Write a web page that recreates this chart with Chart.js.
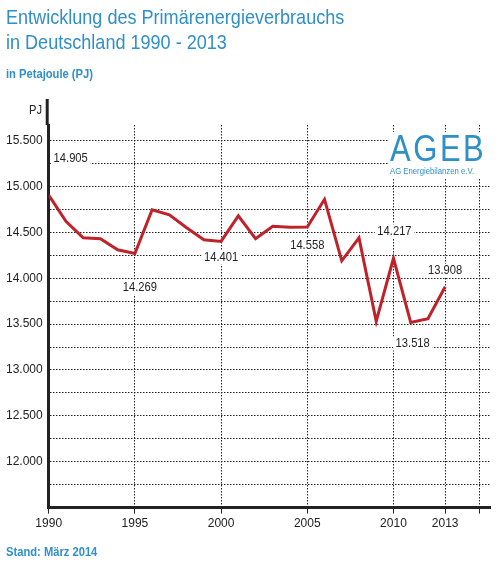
<!DOCTYPE html>
<html><head><meta charset="utf-8">
<script src="https://cdn.jsdelivr.net/npm/chart.js@4"></script>
<style>
body{margin:0;background:#fff;font-family:"Liberation Sans",Arial,sans-serif;}
.n{display:inline-block;transform-origin:0 0;transform:scaleX(0.86);white-space:nowrap}
#t{position:absolute;left:6px;top:4px;color:#2f8fc8;font-size:21px;line-height:25px;}
#s{position:absolute;left:6px;top:66px;color:#2f8fc8;font-size:13px;font-weight:bold;}
#f{position:absolute;left:6px;top:544px;color:#2f8fc8;font-size:13px;font-weight:bold;}
#logo{position:absolute;left:388px;top:132px;color:#2f8fc8;font-size:36px;letter-spacing:3px;line-height:34px;background:#fff;padding:0 2px}
#logo small{display:block;font-size:9px;letter-spacing:0;line-height:10px}
#pj{position:absolute;left:29px;top:102px;font-size:13px;color:#222}
#c{position:absolute;left:0;top:0}
</style></head><body>
<canvas id="c" width="500" height="566"></canvas>
<div id="t"><span class="n">Entwicklung des Primärenergieverbrauchs<br>in Deutschland 1990 - 2013</span></div>
<div id="s"><span class="n">in Petajoule (PJ)</span></div>
<div id="logo"><span class="n">AGEB<small>AG Energiebilanzen e.V.</small></span></div>
<div id="pj"><span class="n">PJ</span></div>
<div id="f"><span class="n">Stand: März 2014</span></div>
<script>
const years=[1990,1991,1992,1993,1994,1995,1996,1997,1998,1999,2000,2001,2002,2003,2004,2005,2006,2007,2008,2009,2010,2011,2012,2013];
const values=[14905,14620,14440,14430,14310,14269,14746,14690,14550,14420,14401,14679,14430,14566,14555,14558,14860,14190,14440,13531,14217,13518,13560,13908];
const labelled={1990:[22,-37],1995:[5,34],2000:[0,16],2005:[0,18],2010:[1,-27],2011:[2,21],2013:[0,-16]};
const xTicks=[1990,1995,2000,2005,2010,2013,2015];
const fmt=v=>String(v).replace(/\B(?=(\d{3})+(?!\d))/g,'.');
const labelsPlugin={id:'lbl',afterDatasetsDraw(ch){const c=ch.ctx,m=ch.getDatasetMeta(0);c.save();c.font='13px "Liberation Sans",sans-serif';c.textBaseline='middle';
years.forEach((y,i)=>{if(labelled[y]){const p=m.data[i],o=labelled[y];const t=fmt(values[i]);
c.save();c.translate(p.x+o[0],p.y+o[1]);c.scale(0.86,1);const w=c.measureText(t).width;c.fillStyle='#fff';c.fillRect(-w/2-3,-7,w+6,14);c.fillStyle='#222';c.textAlign='center';c.fillText(t,0,0);c.restore();}});
const a=ch.chartArea;c.fillStyle='#222';c.fillRect(a.left-3,a.top-26,3,26);c.restore();}};
new Chart(document.getElementById('c'),{type:'line',
data:{datasets:[{data:years.map((y,i)=>({x:y,y:values[i]})),borderColor:'#c0222a',borderWidth:3,pointRadius:0,tension:0}]},
options:{responsive:false,animation:false,layout:{padding:{left:0,right:10,top:125,bottom:32}},
plugins:{legend:{display:false},tooltip:{enabled:false}},
scales:{
x:{type:'linear',min:1990,max:2015.6,afterBuildTicks:s=>{s.ticks=xTicks.map(v=>({value:v}))},
 grid:{color:'#222',lineWidth:1,tickLength:6},border:{display:true,color:'#222',width:3,dash:[1.5,1.5]},
 ticks:{callback:v=>v===2015?'':String(v),color:'#222',font:{size:12,family:'Liberation Sans'},maxRotation:0,autoSkip:false}},
y:{min:11500,max:15670,afterBuildTicks:s=>{const t=[];for(let v=11750;v<=15500;v+=250)t.push({value:v});s.ticks=t},
 grid:{color:'#222',lineWidth:1,drawTicks:false},border:{color:'#222',width:3,dash:[1.5,1.5]},
 ticks:{callback:v=>v%500===0&&v>11500?fmt(v):'',color:'#222',font:{size:12,family:'Liberation Sans'},padding:6}}
}},
plugins:[labelsPlugin]
});
</script></body></html>
